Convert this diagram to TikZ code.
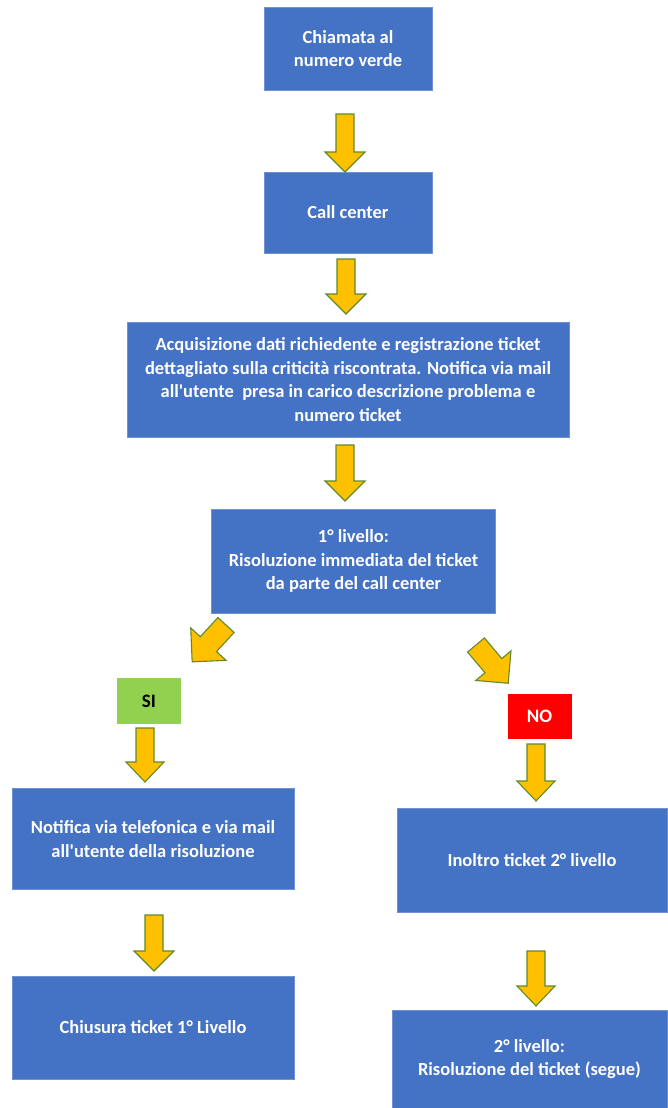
\documentclass[tikz,border=0pt]{standalone}
\usepackage{fontspec}
\setmainfont{Carlito}[Ligatures=TeXOff]
\definecolor{boxblue}{HTML}{4472C4}
\definecolor{boxedge}{HTML}{6F92D2}
\definecolor{arrowfill}{HTML}{FFC000}
\definecolor{arrowedge}{HTML}{5E8B2A}
\definecolor{yesgreen}{HTML}{92D050}
\definecolor{nored}{HTML}{FF0000}
\begin{document}
\begin{tikzpicture}[x=1pt, y={(0pt,-1pt)},
  box/.style={draw=boxedge, line width=0.8pt, fill=boxblue, text=white,
    font=\bfseries\fontsize{18.5}{23.5}\selectfont, align=center, inner sep=0pt},
  tag/.style={line width=0pt, inner sep=0pt, minimum width=64pt,
    font=\bfseries\fontsize{19}{21}\selectfont},
  arrowstyle/.style={fill=arrowfill, draw=arrowedge, line width=1.1pt, line join=miter},
  % block arrow pointing down from the shaft's top centre:
  % length, shaft half-width, head half-width, head length
  pics/blockarrow/.style n args={4}{code={
    \draw[arrowstyle] (-#2,0) -- (-#2,#1-#4) -- (-#3,#1-#4) -- (0,#1)
      -- (#3,#1-#4) -- (#2,#1-#4) -- (#2,0) -- cycle;}}
]
\useasboundingbox (0,0) rectangle (667,1108);

% process boxes
\node[box, minimum width=168pt, minimum height=83pt] (call) at (348,48.5)
  {Chiamata al\\numero verde};
\node[box, minimum width=168pt, minimum height=81pt] (center) at (348,212.5)
  {Call center};
\node[box, minimum width=442pt, minimum height=115pt] (acq) at (348,379.5)
  {Acquisizione dati richiedente e registrazione ticket\\
   dettagliato sulla criticità riscontrata. Notifica via mail\\
   all'utente\ \ presa in carico descrizione problema e\\
   numero ticket};
\node[box, minimum width=284pt, minimum height=104pt] (lvl1) at (353.5,561)
  {1° livello:\\Risoluzione immediata del ticket\\da parte del call center};

% decision tags
\node[tag, fill=yesgreen, text=black, minimum height=46pt] (yes) at (149,701) {SI};
\node[tag, fill=nored, text=white, minimum height=45pt] (no) at (539.5,716.5) {NO};

% outcome boxes
\node[box, minimum width=282pt, minimum height=101pt] (notify) at (153,839)
  {Notifica via telefonica e via mail\\all'utente della risoluzione};
\node[box, minimum width=270pt, minimum height=104pt] (fwd) at (532,860.5)
  {Inoltro ticket 2° livello};
\node[box, minimum width=282pt, minimum height=103pt] (close) at (153,1027.5)
  {Chiusura ticket 1° Livello};
\node[box, minimum width=275pt, minimum height=98pt] (lvl2) at (529.5,1059)
  {2° livello:\\Risoluzione del ticket (segue)};

% block arrows between the steps
\pic (a1) at (345,114) {blockarrow={58}{9}{20}{20}};
\pic (a2) at (346,259) {blockarrow={55}{9}{20}{20}};
\pic (a3) at (345,445) {blockarrow={56}{9}{20}{20}};
\pic[rotate=-42.6] (a4) at (226,625) {blockarrow={50}{11}{24}{24}};
\pic[rotate=40.1] (a5) at (476,645) {blockarrow={50}{11}{23}{23}};
\pic (a6) at (145,728) {blockarrow={54}{9}{19}{20}};
\pic (a7) at (536,744) {blockarrow={57}{9}{19}{20}};
\pic (a8) at (154,915) {blockarrow={56}{9}{20}{20}};
\pic (a9) at (536,951) {blockarrow={55}{9}{19}{20}};
\end{tikzpicture}
\end{document}
